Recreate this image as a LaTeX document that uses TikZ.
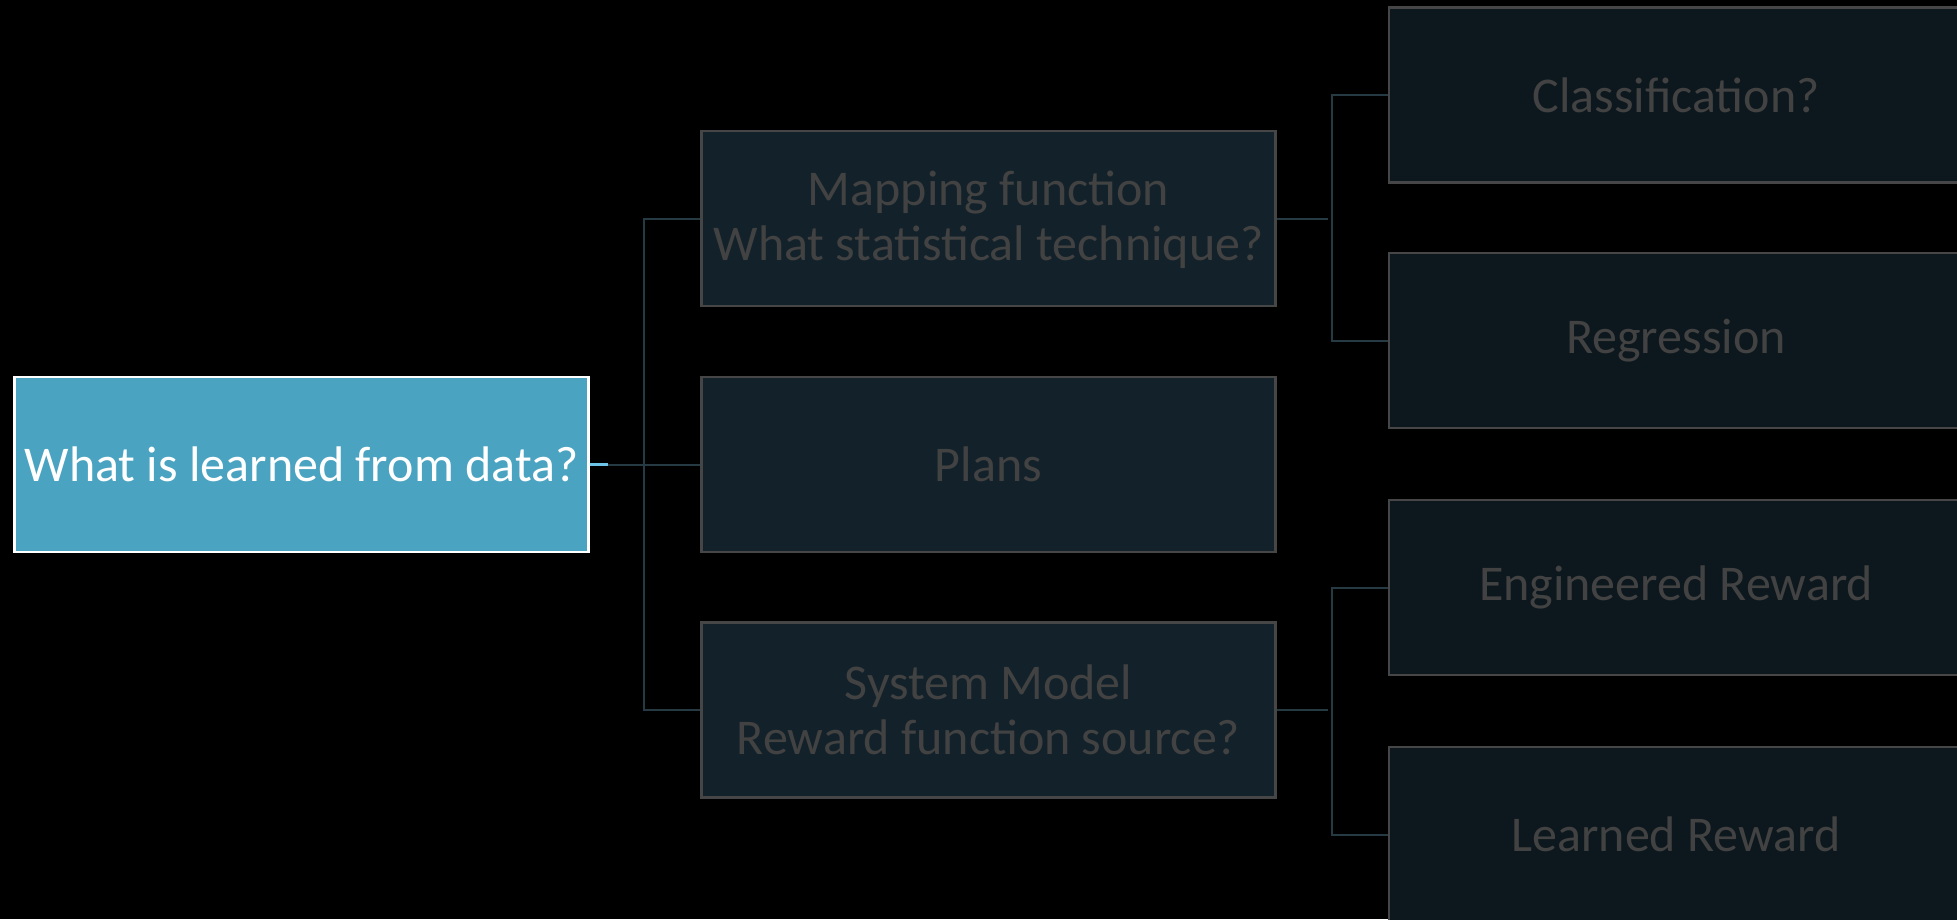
\documentclass[tikz,border=0pt]{standalone}
\usepackage{fontspec}
\setmainfont{Carlito}
\usetikzlibrary{calc}

\definecolor{rootfill}{HTML}{4AA3C1}
\definecolor{stubcol}{HTML}{6CC4E8}
\definecolor{linkcol}{HTML}{263A44}
\definecolor{midfill}{HTML}{13222A}
\definecolor{leaffill}{HTML}{0D181E}
\definecolor{edgecol}{HTML}{464646}
\definecolor{dimtext}{HTML}{424242}

\tikzset{
  box/.style={rectangle, inner sep=0pt, align=center,
    minimum width=574pt, minimum height=175pt,
    font=\fontsize{50}{55}\selectfont, line width=2.2pt},
  rootbox/.style={box, fill=rootfill, draw=white, text=white},
  midbox/.style={box, fill=midfill, draw=edgecol, text=dimtext},
  leafbox/.style={box, fill=leaffill, draw=edgecol, text=dimtext},
  conn/.style={draw=linkcol, line width=2pt},
  stub/.style={draw=stubcol, line width=2.5pt}
}

\begin{document}
\begin{tikzpicture}[x=1pt, y=-1pt]
  \fill[black] (0,0) rectangle (1957,919);
  \useasboundingbox (0,0) rectangle (1957,919);

  % root question
  \node[rootbox] (root) at (301.5,464.5) {What is learned from data?};

  % second level
  \node[midbox, text depth=5pt] (map) at (988.5,218.5) {Mapping function\\What statistical technique?};
  \node[midbox] (plans) at (988.5,464.5) {Plans};
  \node[midbox] (sys) at (988.5,710) {System Model\\Reward function source?};

  % third level
  \node[leafbox] (cls) at (1676,95) {Classification?};
  \node[leafbox] (reg) at (1676,340.5) {Regression};
  \node[leafbox] (eng) at (1676,587.5) {Engineered Reward};
  \node[leafbox] (lrn) at (1676,834.5) {Learned Reward};

  % root to second level
  \coordinate (stubend) at ($(root.east)+(18,0)$);
  \draw[conn] (stubend) -- (plans.west);
  \draw[conn] (map.west) -- ++(-56,0) |- (sys.west);
  \draw[stub] (root.east) -- (stubend);

  % second level to third level
  \draw[conn] (map.east) -- ++(51,0);
  \draw[conn] (cls.west) -- ++(-56,0) |- (reg.west);
  \draw[conn] (sys.east) -- ++(51,0);
  \draw[conn] (eng.west) -- ++(-56,0) |- (lrn.west);
\end{tikzpicture}
\end{document}
